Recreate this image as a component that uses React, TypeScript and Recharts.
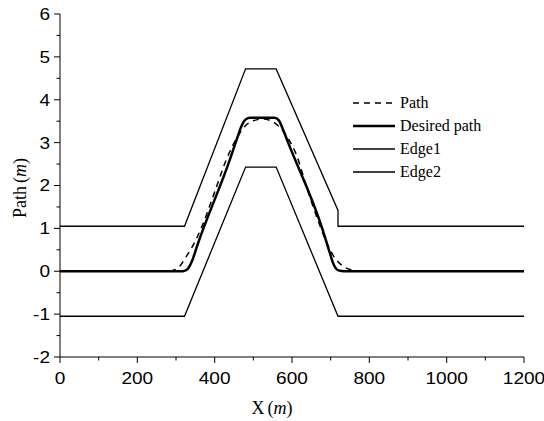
import { Line, LineChart, XAxis, YAxis } from "recharts";

// Edge lines of the corridor
const edge1 = [
  { x: 0, y: 1.05 },
  { x: 322, y: 1.05 },
  { x: 480, y: 4.72 },
  { x: 559, y: 4.72 },
  { x: 719, y: 1.42 },
  { x: 719, y: 1.05 },
  { x: 1200, y: 1.05 },
];

const edge2 = [
  { x: 0, y: -1.05 },
  { x: 322, y: -1.05 },
  { x: 480, y: 2.43 },
  { x: 559, y: 2.43 },
  { x: 719, y: -1.05 },
  { x: 1200, y: -1.05 },
];

const desiredPath = [
  { x: 0, y: 0 },
  { x: 318, y: 0 },
  { x: 330, y: 0.05 },
  { x: 342, y: 0.25 },
  { x: 355, y: 0.6 },
  { x: 440, y: 2.62 },
  { x: 458, y: 3.1 },
  { x: 470, y: 3.4 },
  { x: 480, y: 3.54 },
  { x: 492, y: 3.58 },
  { x: 555, y: 3.58 },
  { x: 566, y: 3.52 },
  { x: 577, y: 3.3 },
  { x: 590, y: 3.0 },
  { x: 680, y: 0.95 },
  { x: 697, y: 0.45 },
  { x: 708, y: 0.15 },
  { x: 720, y: 0.02 },
  { x: 735, y: 0 },
  { x: 1200, y: 0 },
];

const actualPath = [
  { x: 0, y: 0 },
  { x: 280, y: 0 },
  { x: 298, y: 0.04 },
  { x: 310, y: 0.12 },
  { x: 325, y: 0.32 },
  { x: 345, y: 0.62 },
  { x: 365, y: 1.0 },
  { x: 400, y: 1.85 },
  { x: 430, y: 2.6 },
  { x: 460, y: 3.15 },
  { x: 480, y: 3.4 },
  { x: 500, y: 3.51 },
  { x: 525, y: 3.55 },
  { x: 548, y: 3.5 },
  { x: 568, y: 3.36 },
  { x: 590, y: 3.1 },
  { x: 612, y: 2.7 },
  { x: 640, y: 1.9 },
  { x: 670, y: 1.12 },
  { x: 690, y: 0.66 },
  { x: 710, y: 0.32 },
  { x: 730, y: 0.13 },
  { x: 750, y: 0.04 },
  { x: 775, y: 0 },
  { x: 1200, y: 0 },
];

const X_TICKS = [0, 100, 200, 300, 400, 500, 600, 700, 800, 900, 1000, 1100, 1200];
const Y_TICKS = [-2, -1.5, -1, -0.5, 0, 0.5, 1, 1.5, 2, 2.5, 3, 3.5, 4, 4.5, 5, 5.5, 6];

const TICK_FONT = "'Liberation Sans', Arial, sans-serif";
const SERIF = "'Liberation Serif', 'Times New Roman', serif";

const LEGEND_ITEMS = [
  { label: "Path", width: 1.5, dash: "6 5" },
  { label: "Desired path", width: 2.5, dash: undefined },
  { label: "Edge1", width: 1.3, dash: undefined },
  { label: "Edge2", width: 1.3, dash: undefined },
];

function XTick({ x, y, payload }: any) {
  const major = payload.value % 200 === 0;
  return (
    <g>
      <line x1={x} x2={x} y1={y} y2={y + (major ? 6 : 3.5)} stroke="#000" strokeWidth={1} />
      {major && (
        <text
          x={x}
          y={y + 27}
          textAnchor="middle"
          fontFamily={TICK_FONT}
          fontSize={17}
          fill="#000"
          transform={`translate(${x} 0) scale(1.12 1) translate(${-x} 0)`}
        >
          {payload.value}
        </text>
      )}
    </g>
  );
}

function YTick({ x, y, payload }: any) {
  const major = Number.isInteger(payload.value);
  return (
    <g>
      <line x1={x - (major ? 6 : 3.5)} x2={x} y1={y} y2={y} stroke="#000" strokeWidth={1} />
      {major && (
        <text
          x={x - 10}
          y={y + 6}
          textAnchor="end"
          fontFamily={TICK_FONT}
          fontSize={17}
          fill="#000"
          transform={`translate(${x - 10} 0) scale(1.12 1) translate(${-(x - 10)} 0)`}
        >
          {payload.value}
        </text>
      )}
    </g>
  );
}

function ChartLegend() {
  return (
    <svg width={150} height={90} style={{ position: "absolute", left: 352, top: 95 }}>
      {LEGEND_ITEMS.map((it, i) => {
        const cy = 8 + i * 23;
        return (
          <g key={it.label}>
            <line
              x1={1}
              x2={43}
              y1={cy}
              y2={cy}
              stroke="#000"
              strokeWidth={it.width}
              strokeDasharray={it.dash}
            />
            <text x={48} y={cy + 5} fontFamily={SERIF} fontSize={16} fill="#000">
              {it.label}
            </text>
          </g>
        );
      })}
    </svg>
  );
}

export default function App() {
  return (
    <div style={{ position: "fixed", left: 0, top: 0, width: 544, height: 421, background: "#fff" }}>
      <LineChart width={544} height={421} margin={{ top: 14, right: 20, left: 0, bottom: 0 }}>
        <XAxis
          type="number"
          dataKey="x"
          domain={[0, 1200]}
          ticks={X_TICKS}
          interval={0}
          tick={<XTick />}
          tickSize={0}
          tickMargin={0}
          height={64}
          stroke="#000"
          allowDuplicatedCategory={false}
        />
        <YAxis
          type="number"
          dataKey="y"
          domain={[-2, 6]}
          ticks={Y_TICKS}
          interval={0}
          tick={<YTick />}
          tickSize={0}
          tickMargin={0}
          width={60}
          stroke="#000"
        />
        <Line
          data={edge1}
          dataKey="y"
          type="linear"
          stroke="#000"
          strokeWidth={1.3}
          dot={false}
          isAnimationActive={false}
        />
        <Line
          data={edge2}
          dataKey="y"
          type="linear"
          stroke="#000"
          strokeWidth={1.3}
          dot={false}
          isAnimationActive={false}
        />
        <Line
          data={desiredPath}
          dataKey="y"
          type="monotone"
          stroke="#000"
          strokeWidth={2.5}
          dot={false}
          isAnimationActive={false}
        />
        <Line
          data={actualPath}
          dataKey="y"
          type="monotone"
          stroke="#000"
          strokeWidth={1.5}
          strokeDasharray="6 5"
          dot={false}
          isAnimationActive={false}
        />
      </LineChart>
      <ChartLegend />
      <div
        style={{
          position: "absolute",
          left: 272 - 60,
          top: 397,
          width: 120,
          textAlign: "center",
          fontFamily: SERIF,
          fontSize: 18,
          lineHeight: "22px",
        }}
      >
        X<span style={{ marginLeft: 3 }}>(</span>
        <i>m</i>)
      </div>
      <div
        style={{
          position: "absolute",
          left: 20 - 60,
          top: 188 - 11,
          width: 120,
          height: 22,
          textAlign: "center",
          fontFamily: SERIF,
          fontSize: 18,
          lineHeight: "22px",
          transform: "rotate(-90deg)",
        }}
      >
        Path<span style={{ marginLeft: 3 }}>(</span>
        <i>m</i>)
      </div>
    </div>
  );
}
